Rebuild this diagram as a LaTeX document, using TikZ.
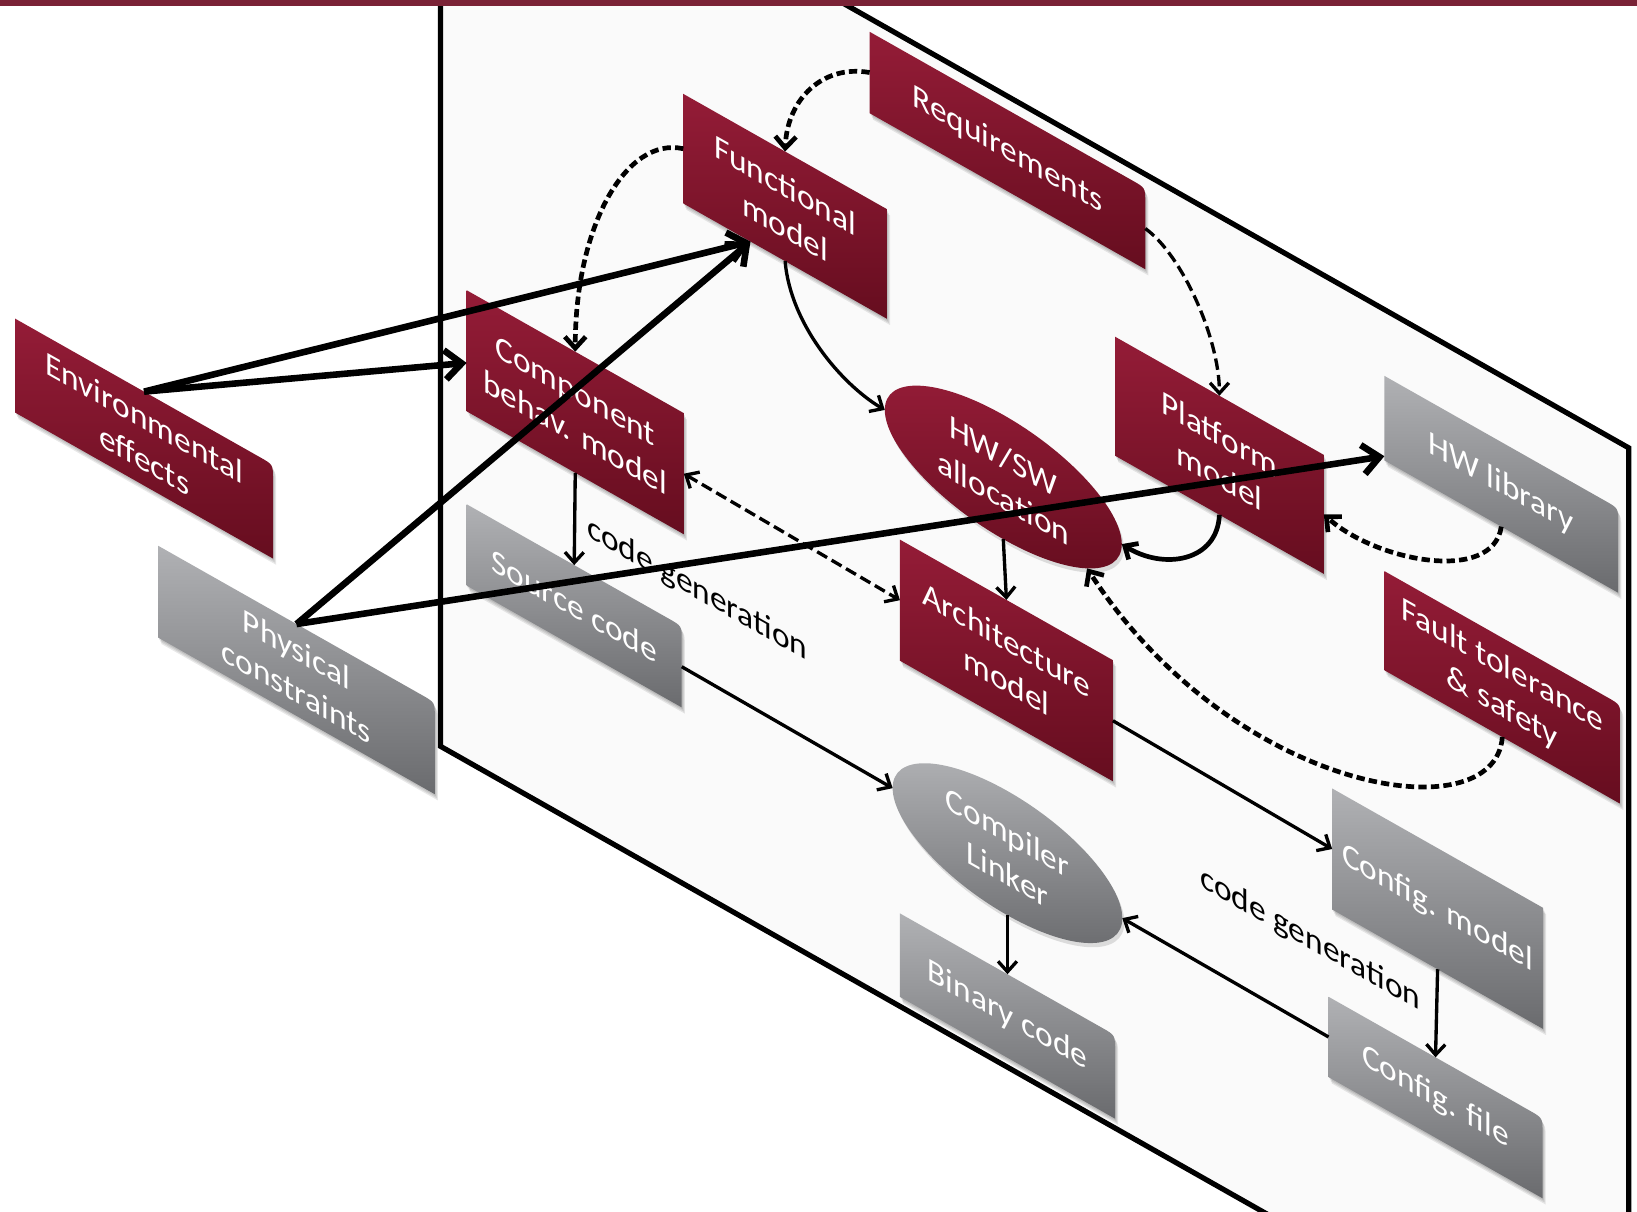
\documentclass[tikz,border=0pt]{standalone}
\usepackage{fontspec}
\setmainfont{Carlito}
\usetikzlibrary{arrows.meta,calc,shapes.geometric,shadows}

\definecolor{crtop}{RGB}{148,28,55}
\definecolor{crbot}{RGB}{102,13,31}
\definecolor{grtop}{RGB}{176,177,180}
\definecolor{grbot}{RGB}{106,107,110}
\definecolor{planefill}{RGB}{250,250,250}
\definecolor{barc}{RGB}{122,34,54}

\pgfdeclarelayer{plane}
\pgfdeclarelayer{boxes}
\pgfsetlayers{plane,boxes,main}

% outline of a slanted box, optionally with a rounded upper right corner
\newcommand\slabpath[2]{(#1.south west) -- (#1.north west) -- ($(#1.north east)!#2!(#1.north west)$) .. controls (#1.north east) .. ($(#1.north east)!#2!(#1.south east)$) -- (#1.south east) -- cycle}

% fills a slanted box (with a soft shadow) behind its text node
\newcommand\slabfill[3]{%
  \begin{pgfonlayer}{boxes}
    \fill[black, opacity=0.09, transform canvas={shift={(1pt,-2pt)}}] \slabpath{#1}{#3};
    \fill[black, opacity=0.09, transform canvas={shift={(2pt,-4pt)}}] \slabpath{#1}{#3};
    \fill[black, opacity=0.09, transform canvas={shift={(3pt,-6pt)}}] \slabpath{#1}{#3};
    \shade[#2] \slabpath{#1}{#3};
  \end{pgfonlayer}}

\tikzset{
  lbl/.style={font=\fontsize{32}{40}\selectfont, align=center, inner sep=0pt, outer sep=0pt, transform shape},
  slab/.style={lbl, text=white},
  redfill/.style={top color=crtop, bottom color=crbot},
  greyfill/.style={top color=grtop, bottom color=grbot},
  oval/.style={lbl, text=white, ellipse, drop shadow={opacity=0.25, shadow xshift=2pt, shadow yshift=-4pt}},
  conn/.style={line width=3.2pt, -{Straight Barb[length=10pt,width=18pt]}},
  heavy/.style={line width=6.3pt, -{Straight Barb[length=16pt,width=28pt]}},
  dashheavy/.style={line width=4.5pt, dash pattern=on 8pt off 4pt, -{Straight Barb[length=11pt,width=20pt]}},
  dashlight/.style={line width=3.2pt, dash pattern=on 11pt off 5pt, -{Straight Barb[length=10pt,width=18pt]}},
}

\begin{document}
\begin{tikzpicture}[x=1pt, y=-1pt]
\useasboundingbox (0,0) rectangle (1568,1160);

% the slanted plane holding the design flow
\begin{pgfonlayer}{plane}
  \begin{scope}[yslant=-0.566]
    \filldraw[fill=planefill, draw=black, line width=5pt, line join=miter]
      (422,-454) -- (1560,-454) -- (1560,476) -- (422,476) -- cycle;
  \end{scope}
\end{pgfonlayer}

% boxes, ovals and labels, all lying in the slanted plane
\begin{scope}[yslant=-0.566]
  \node[slab, minimum width=264pt, minimum height=78pt]  (req)   at (965,-402) {Requirements};
  \node[slab, minimum width=195pt, minimum height=105pt] (func)  at (752,-228) {Functional\\model};
  \node[slab, minimum width=208pt, minimum height=116pt] (comp)  at (551,83)   {Component\\behav. model};
  \node[slab, minimum width=206pt, minimum height=78pt]  (src)   at (550,269)  {Source code};
  \node[slab, minimum width=247pt, minimum height=90pt]  (env)   at (138,342)  {Environmental\\effects};
  \node[slab, minimum width=265pt, minimum height=88pt]  (phys)  at (284,481)  {Physical\\constraints};
  \node[slab, minimum width=200pt, minimum height=114pt] (plat)  at (1168,-225) {Platform\\model};
  \node[slab, minimum width=224pt, minimum height=81pt]  (hwlib) at (1438,-350) {HW library};
  \node[slab, minimum width=204pt, minimum height=116pt] (arch)  at (964,87)   {Architecture\\model};
  \node[slab, minimum width=226pt, minimum height=95pt]  (fault) at (1439,-156) {Fault tolerance\\\& safety};
  \node[slab, minimum width=202pt, minimum height=116pt] (cfgm)  at (1377,91)  {Config. model};
  \node[slab, minimum width=205pt, minimum height=77pt]  (cfgf)  at (1375,273) {Config. file};
  \node[slab, minimum width=206pt, minimum height=80pt]  (bin)   at (965,427)  {Binary code};

  \node[oval, redfill, minimum width=227pt, minimum height=119pt]  (hwsw) at (961,-87) {HW/SW\\allocation};
  \node[oval, greyfill, minimum width=220pt, minimum height=119pt] (cl)   at (965,271) {Compiler\\Linker};

  \node[lbl] (cg1) at (668,187) {code generation};
  \node[lbl] (cg2) at (1255,190) {code generation};
\end{scope}

\slabfill{req}{redfill}{14pt}
\slabfill{func}{redfill}{0pt}
\slabfill{comp}{redfill}{0pt}
\slabfill{src}{greyfill}{14pt}
\slabfill{env}{redfill}{14pt}
\slabfill{phys}{greyfill}{14pt}
\slabfill{plat}{redfill}{0pt}
\slabfill{hwlib}{greyfill}{14pt}
\slabfill{arch}{redfill}{0pt}
\slabfill{fault}{redfill}{14pt}
\slabfill{cfgm}{greyfill}{0pt}
\slabfill{cfgf}{greyfill}{14pt}
\slabfill{bin}{greyfill}{14pt}

% entry points on box edges for the long arrows
\coordinate (func-in) at ($(func.south west)!0.33!(func.south east)$);
\coordinate (comp-in) at ($(comp.north west)!0.6!(comp.south west)$);
\coordinate (hwlib-in) at ($(hwlib.north west)!0.95!(hwlib.south west)$);

% flow inside the plane
\draw[dashheavy] (req.west) .. controls +(-45,-8) and +(2,-50) .. (func.north);
\draw[dashheavy] (func.west) .. controls +(-55,-12) and +(0,-120) .. (comp.north);
\draw[conn] (func.south) .. controls +(5,60) and +(-42,-25) .. (hwsw.west);
\draw[dashlight] (req.east) .. controls +(35,25) and +(0,-55) .. (plat.north);
\draw[conn, line width=4.5pt] (plat.south) .. controls +(-2,45) and +(40,25) .. (hwsw.east);
\draw[dashheavy] (hwlib.south) .. controls +(-8,55) and +(50,45) .. (plat.east);
\draw[dashheavy] (fault.south) .. controls +(-7,94) and +(139,215) .. (hwsw.south east);
\draw[conn] (hwsw.south) -- (arch.north);
\draw[dashlight, {Straight Barb[length=10pt,width=18pt]}-{Straight Barb[length=10pt,width=18pt]}] (comp.east) -- (arch.west);
\draw[conn] (comp.south) -- (src.north);
\draw[conn] (src.east) -- (cl.west);
\draw[conn] (arch.east) -- (cfgm.west);
\draw[conn] (cl.south) -- (bin.north);
\draw[conn] (cfgm.south) -- (cfgf.north);
\draw[conn] (cfgf.west) -- (cl.east);

% influences from outside the plane
\draw[heavy] (env.north) -- (func-in);
\draw[heavy] (env.north) -- (comp-in);
\draw[heavy] (phys.north) -- (func-in);
\draw[heavy] (phys.north) -- (hwlib-in);

% title bar
\fill[barc] (0,0) rectangle (1568,6);
\end{tikzpicture}
\end{document}
